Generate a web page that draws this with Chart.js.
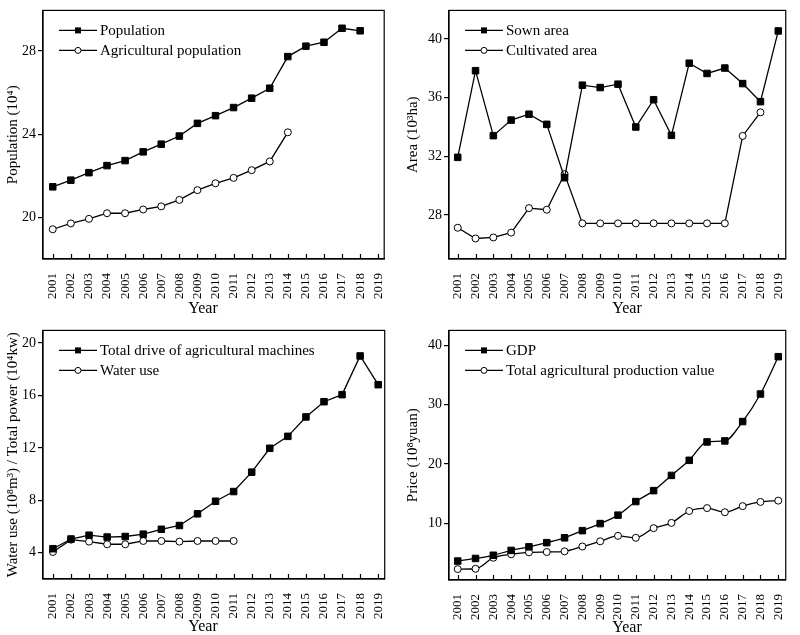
<!DOCTYPE html>
<html lang="en">
<head>
  <meta charset="UTF-8">
  <title>Population, area, water use and price 2001-2019</title>
  <script src="https://cdn.jsdelivr.net/npm/chart.js"></script>
  <style>
    body { margin: 0; background: #fff; }
    .panel { position: absolute; }
  </style>
</head>
<body>
  <div class="panel" style="left:0;top:0"><canvas id="chartPop" width="400" height="320"></canvas></div>
  <div class="panel" style="left:400px;top:0"><canvas id="chartArea" width="400" height="320"></canvas></div>
  <div class="panel" style="left:0;top:320px"><canvas id="chartWater" width="400" height="315"></canvas></div>
  <div class="panel" style="left:400px;top:320px"><canvas id="chartPrice" width="400" height="315"></canvas></div>

  <script>
    const years = [2001, 2002, 2003, 2004, 2005, 2006, 2007, 2008, 2009, 2010,
                   2011, 2012, 2013, 2014, 2015, 2016, 2017, 2018, 2019];

    // population (10^4)
    const population = [21.47, 21.79, 22.15, 22.49, 22.73, 23.15, 23.52, 23.91, 24.52, 24.89,
                        25.28, 25.73, 26.21, 27.73, 28.23, 28.42, 29.09, 28.97, null];
    const agriPopulation = [19.43, 19.71, 19.93, 20.20, 20.20, 20.38, 20.53, 20.84, 21.31, 21.64,
                            21.90, 22.27, 22.69, 24.09, null, null, null, null, null];
    const popTicks = [20, 24, 28];

    // area (10^3 ha)
    const sownArea = [31.93, 37.84, 33.41, 34.47, 34.87, 34.18, 30.54, 36.85, 36.69, 36.92,
                      34.00, 35.86, 33.43, 38.35, 37.65, 38.02, 36.96, 35.73, 40.55];
    const cultivatedArea = [27.13, 26.40, 26.47, 26.80, 28.47, 28.36, 30.79, 27.43, 27.43, 27.43,
                            27.43, 27.43, 27.43, 27.43, 27.43, 27.43, 33.39, 35.00, null];
    const areaTicks = [28, 32, 36, 40];

    // machines (10^4 kw) and water use (10^8 m3)
    const machinePower = [4.31, 5.05, 5.34, 5.20, 5.24, 5.42, 5.79, 6.08, 6.97, 7.93,
                          8.67, 10.15, 11.97, 12.88, 14.36, 15.52, 16.06, 19.01, 16.82];
    const waterUse = [4.06, 5.00, 4.85, 4.65, 4.65, 4.90, 4.90, 4.85, 4.90, 4.90,
                      4.90, null, null, null, null, null, null, null, null];
    const waterTicks = [4, 8, 12, 16, 20];

    // price (10^8 yuan)
    const gdp = [3.60, 4.04, 4.58, 5.40, 6.00, 6.71, 7.53, 8.74, 9.93, 11.36,
                 13.65, 15.50, 18.07, 20.62, 23.73, 23.90, 27.17, 31.82, 38.13];
    const agriOutput = [2.24, 2.30, 4.16, 4.75, 5.07, 5.13, 5.24, 6.06, 6.94, 7.86,
                        7.53, 9.16, 10.05, 12.06, 12.55, 11.85, 12.88, 13.59, 13.81];
    const priceTicks = [10, 20, 30, 40];

    const FONT = "'Liberation Serif', 'Times New Roman', serif";

    // box around plot, inward x ticks, "Year" label and legend inside the plot
    const framePlugin = {
      id: 'frame',
      afterDraw(chart, args, opts) {
        const ctx = chart.ctx;
        const a = chart.chartArea;
        const xs = chart.scales.x;
        ctx.save();
        ctx.strokeStyle = '#000';
        ctx.lineWidth = 1.2;
        ctx.strokeRect(a.left, a.top, a.right - a.left, a.bottom - a.top);
        xs.ticks.forEach(t => {
          const px = Math.round(xs.getPixelForValue(t.value)) + 0.5;
          ctx.beginPath();
          ctx.moveTo(px, a.bottom);
          ctx.lineTo(px, a.bottom - 5);
          ctx.stroke();
        });

        ctx.fillStyle = '#000';
        ctx.font = '16px ' + FONT;
        ctx.textAlign = 'center';
        ctx.textBaseline = 'alphabetic';
        ctx.fillText('Year', opts.titleX, opts.titleY);

        ctx.font = '15px ' + FONT;
        ctx.textAlign = 'left';
        ctx.textBaseline = 'middle';
        chart.data.datasets.forEach((ds, i) => {
          const y = a.top + 20 + i * 20;
          const x0 = a.left + 16, x1 = a.left + 54, xm = (x0 + x1) / 2;
          ctx.lineWidth = 1.3;
          ctx.beginPath();
          ctx.moveTo(x0, y);
          ctx.lineTo(x1, y);
          ctx.stroke();
          ctx.lineWidth = 1;
          if (ds.pointStyle === 'rect') {
            ctx.fillRect(xm - 3, y - 3, 6, 6);
          } else {
            ctx.beginPath();
            ctx.arc(xm, y, 3, 0, Math.PI * 2);
            ctx.fillStyle = '#fff';
            ctx.fill();
            ctx.stroke();
            ctx.fillStyle = '#000';
          }
          ctx.fillText(ds.label, x0 + 41, y + 1);
        });
        ctx.restore();
      }
    };

    function series(label, values, filled, smooth) {
      return {
        label: label,
        data: years.map((yr, i) => ({ x: yr, y: values[i] })),
        borderColor: '#000',
        borderWidth: 1.3,
        pointStyle: filled ? 'rect' : 'circle',
        pointRadius: filled ? 4.6 : 3.5,
        pointBorderWidth: 1,
        pointBackgroundColor: filled ? '#000' : '#fff',
        pointBorderColor: '#000',
        cubicInterpolationMode: smooth ? 'monotone' : 'default',
        spanGaps: false
      };
    }

    function makeChart(id, box, datasets, yTitle, yTicks) {
      new Chart(document.getElementById(id), {
        type: 'line',
        data: { datasets: datasets },
        plugins: [framePlugin],
        options: {
          responsive: false,
          animation: false,
          layout: { padding: { left: 0, top: box.top, right: 400 - box.right, bottom: 0 } },
          plugins: {
            legend: { display: false },
            tooltip: { enabled: false },
            frame: { titleX: box.titleX, titleY: box.titleY }
          },
          scales: {
            x: {
              type: 'linear',
              min: box.xmin,
              max: box.xmax,
              grid: { display: false },
              border: { display: true, color: '#000', width: 1.2 },
              afterBuildTicks: s => { s.ticks = years.map(v => ({ value: v })); },
              afterFit: s => { s.height = box.h - box.bottom; },
              ticks: {
                autoSkip: false,
                minRotation: 90,
                maxRotation: 90,
                padding: 6,
                color: '#000',
                font: { family: FONT, size: 13 },
                callback: v => String(v)
              }
            },
            y: {
              min: box.ymin,
              max: box.ymax,
              grid: { display: true, drawOnChartArea: false, drawTicks: true, tickLength: 5, color: '#000', lineWidth: 1.2 },
              border: { display: true, color: '#000', width: 1.2 },
              afterBuildTicks: s => { s.ticks = yTicks.map(v => ({ value: v })); },
              afterFit: s => { s.width = box.left; },
              ticks: {
                padding: 2,
                color: '#000',
                font: { family: FONT, size: 14 }
              },
              title: {
                display: true,
                text: yTitle,
                color: '#000',
                font: { family: FONT, size: 15 },
                padding: { top: 4, bottom: 0 }
              }
            }
          }
        }
      });
    }

    makeChart('chartPop',
      { left: 43, right: 390, top: 3, bottom: 259, h: 320, xmin: 2000.46, xmax: 2019.33, ymin: 18, ymax: 29.95, titleX: 203, titleY: 313 },
      [series('Population', population, true), series('Agricultural population', agriPopulation, false)],
      'Population (10\u2074)', popTicks);

    makeChart('chartArea',
      { left: 49, right: 396, top: 3, bottom: 259, h: 320, xmin: 2000.51, xmax: 2019.42, ymin: 25, ymax: 41.95, titleX: 227, titleY: 313 },
      [series('Sown area', sownArea, true), series('Cultivated area', cultivatedArea, false)],
      'Area (10\u00b3ha)', areaTicks);

    makeChart('chartWater',
      { left: 43, right: 390, top: 2, bottom: 259, h: 315, xmin: 2000.45, xmax: 2019.36, ymin: 2, ymax: 20.96, titleX: 203, titleY: 311 },
      [series('Total drive of agricultural machines', machinePower, true), series('Water use', waterUse, false)],
      'Water use (10\u2078m\u00b3) / Total power (10\u2074kw)', waterTicks);

    makeChart('chartPrice',
      { left: 49, right: 396, top: 2, bottom: 260, h: 315, xmin: 2000.51, xmax: 2019.42, ymin: 0.4, ymax: 42.57, titleX: 227, titleY: 312 },
      [series('GDP', gdp, true, true), series('Total agricultural production value', agriOutput, false, true)],
      'Price (10\u2078yuan)', priceTicks);
  </script>
</body>
</html>
